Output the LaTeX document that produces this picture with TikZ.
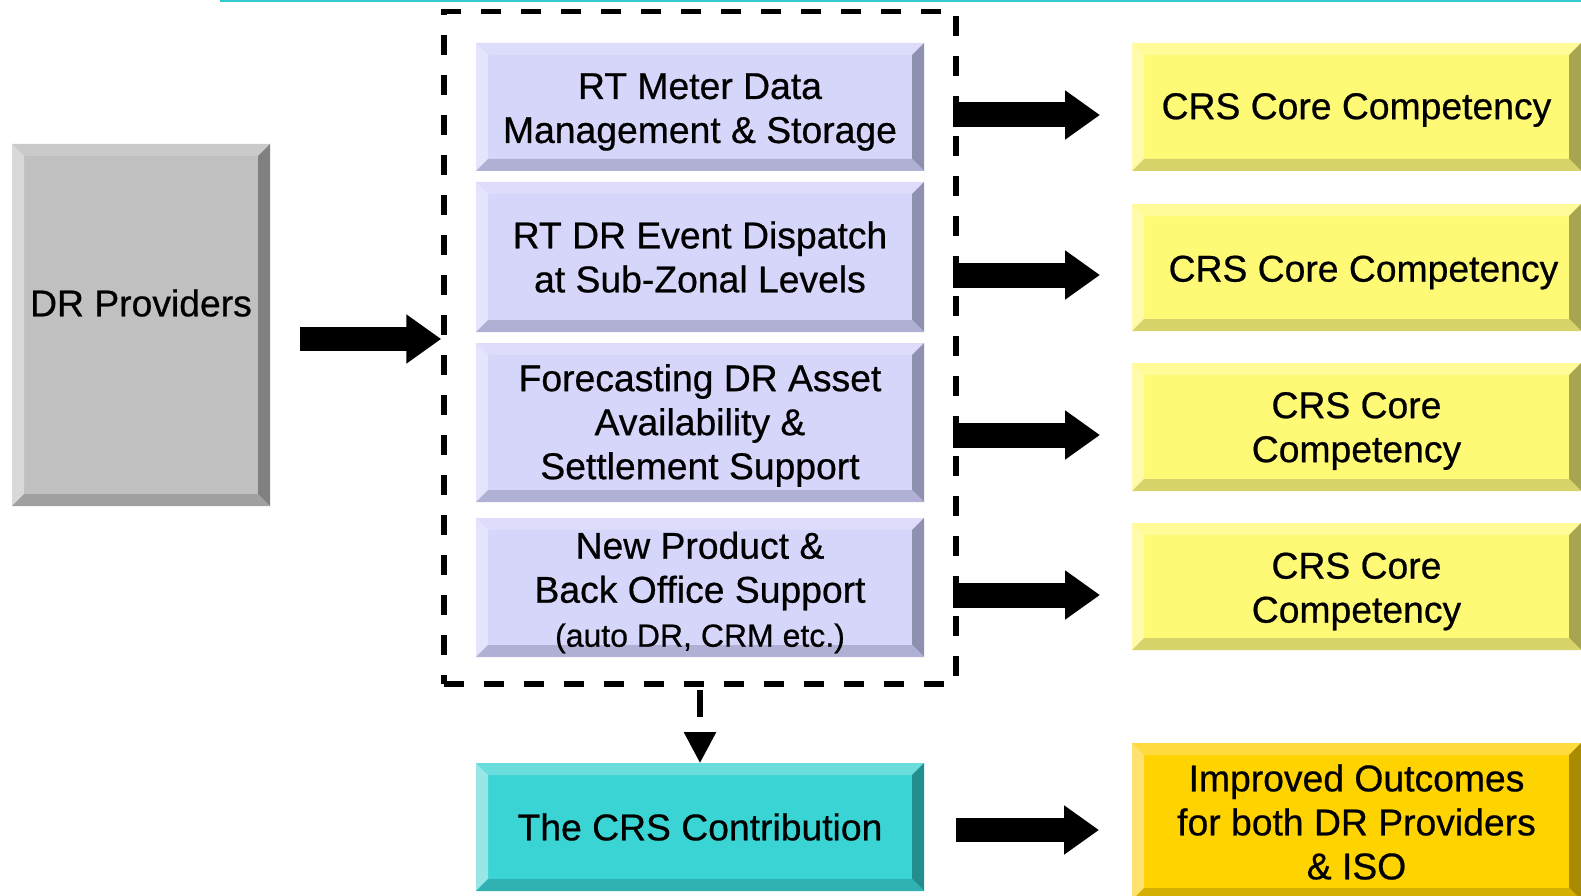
\documentclass[tikz,border=0pt]{standalone}
\usepackage{fontspec}
\setmainfont[FakeBold=0.6]{Liberation Sans}
\usetikzlibrary{arrows.meta,calc}
\definecolor{gFace}{HTML}{BFC0BF}\definecolor{gTop}{HTML}{CACACA}\definecolor{gLeft}{HTML}{D9D9D9}\definecolor{gRight}{HTML}{808080}\definecolor{gBot}{HTML}{A0A0A0}
\definecolor{pFace}{HTML}{D6D6FA}\definecolor{pTop}{HTML}{DDDDFB}\definecolor{pLeft}{HTML}{E4E4FD}\definecolor{pRight}{HTML}{8F8FB0}\definecolor{pBot}{HTML}{B0B0D4}
\definecolor{yFace}{HTML}{FFFA76}\definecolor{yTop}{HTML}{FFFB99}\definecolor{yLeft}{HTML}{FFFBAA}\definecolor{yRight}{HTML}{A8A550}\definecolor{yBot}{HTML}{D6D36A}
\definecolor{oFace}{HTML}{FFD300}\definecolor{oTop}{HTML}{FFDB40}\definecolor{oLeft}{HTML}{FFE170}\definecolor{oRight}{HTML}{A88B00}\definecolor{oBot}{HTML}{D4B000}
\definecolor{cFace}{HTML}{3AD4D4}\definecolor{cTop}{HTML}{6CDDDD}\definecolor{cLeft}{HTML}{98E6E6}\definecolor{cRight}{HTML}{228E8E}\definecolor{cBot}{HTML}{30B2B2}
\definecolor{lineCyan}{HTML}{33CCCC}
\newcommand\bigtxt{\fontsize{37.3}{44}\selectfont}
\newcommand\smalltxt{\fontsize{32}{42}\selectfont}
% name, top, left, right, bottom
\newcommand\bevelfill[5]{%
  \fill[#2] (#1.north west) -- (#1.north east) -- ($(#1.north east)+(-12pt,-12pt)$) -- ($(#1.north west)+(12pt,-12pt)$) -- cycle;
  \fill[#3] (#1.north west) -- (#1.south west) -- ($(#1.south west)+(12pt,12pt)$) -- ($(#1.north west)+(12pt,-12pt)$) -- cycle;
  \fill[#4] (#1.north east) -- (#1.south east) -- ($(#1.south east)+(-12pt,12pt)$) -- ($(#1.north east)+(-12pt,-12pt)$) -- cycle;
  \fill[#5] (#1.south west) -- (#1.south east) -- ($(#1.south east)+(-12pt,12pt)$) -- ($(#1.south west)+(12pt,12pt)$) -- cycle;
}
\tikzset{
  box/.style={inner sep=0pt, outer sep=0pt},
  purplebox/.style={box, fill=pFace, minimum width=448pt},
  yellowbox/.style={box, fill=yFace, minimum width=449pt},
  txt/.style={inner sep=0pt, align=center, font=\bigtxt, text=black},
  blockarrow/.style={line width=24pt, -{Triangle[length=35pt,width=47pt]}},
  dashedgroup/.style={draw=black, line width=5.5pt, dash pattern=on 20pt off 20pt},
}
\begin{document}
\begin{tikzpicture}[x=1pt,y=-1pt]
\useasboundingbox (0,0) rectangle (1581,896);
\clip (0,0) rectangle (1581,896);
\fill[white] (0,0) rectangle (1581,896);
% top line
\coordinate (tl0) at (220,1);
\coordinate (tl1) at (1581,1);
\draw[lineCyan, line width=2pt] (tl0) -- (tl1);
% DR providers
\node[box, fill=gFace, minimum width=258pt, minimum height=362pt] (dr) at (141,325) {};
\bevelfill{dr}{gTop}{gLeft}{gRight}{gBot}
\node[txt] (drt) at (141,303) {DR Providers};
% dashed group
\node[dashedgroup, inner sep=0pt, minimum width=512pt, minimum height=672.5pt] (grp) at (700,347.75) {};
% purple boxes
\node[purplebox, minimum height=128pt] (b1) at (700,107) {};
\node[purplebox, minimum height=150pt] (b2) at (700,257) {};
\node[purplebox, minimum height=159pt] (b3) at (700,422.5) {};
\node[purplebox, minimum height=139pt] (b4) at (700,587.5) {};
\bevelfill{b1}{pTop}{pLeft}{pRight}{pBot}
\bevelfill{b2}{pTop}{pLeft}{pRight}{pBot}
\bevelfill{b3}{pTop}{pLeft}{pRight}{pBot}
\bevelfill{b4}{pTop}{pLeft}{pRight}{pBot}
\node[txt] (b1t) at (700,112) {RT Meter Data\\Management \& Storage};
\node[txt] (b2t) at (700,257) {RT DR Event Dispatch\\at Sub-Zonal Levels};
\node[txt] (b3t) at (700,425.5) {Forecasting DR Asset\\Availability \&\\Settlement Support};
\node[txt] (b4t) at (700,592.5) {New Product \&\\Back Office Support\\{\smalltxt (auto DR, CRM etc.)}};
% cyan box
\node[box, fill=cFace, minimum width=448pt, minimum height=128pt] (crs) at (700,827) {};
\bevelfill{crs}{cTop}{cLeft}{cRight}{cBot}
\node[txt] (crst) at (700,827) {The CRS Contribution};
% yellow boxes
\node[yellowbox, minimum height=128pt] (y1) at (1356.5,107) {};
\node[yellowbox, minimum height=127pt] (y2) at (1356.5,267.5) {};
\node[yellowbox, minimum height=128pt] (y3) at (1356.5,427) {};
\node[yellowbox, minimum height=127pt] (y4) at (1356.5,586.5) {};
\bevelfill{y1}{yTop}{yLeft}{yRight}{yBot}
\bevelfill{y2}{yTop}{yLeft}{yRight}{yBot}
\bevelfill{y3}{yTop}{yLeft}{yRight}{yBot}
\bevelfill{y4}{yTop}{yLeft}{yRight}{yBot}
\node[txt] (y1t) at (1356.5,110) {CRS Core Competency};
\node[txt] (y2t) at (1363.5,272.5) {CRS Core Competency};
\node[txt] (y3t) at (1356.5,431) {CRS Core\\Competency};
\node[txt] (y4t) at (1356.5,591.5) {CRS Core\\Competency};
% gold box
\node[box, fill=oFace, minimum width=449pt, minimum height=157pt] (gold) at (1356.5,821.5) {};
\bevelfill{gold}{oTop}{oLeft}{oRight}{oBot}
\node[txt] (goldt) at (1356.5,822) {Improved Outcomes\\for both DR Providers\\\& ISO};
% arrows
\coordinate (l0) at (300,339);
\draw[blockarrow] (l0) -- (l0 -| grp.west);
\coordinate (r1) at (953,115);
\coordinate (r2) at (953,275);
\coordinate (r3) at (953,435);
\coordinate (r4) at (953,595);
\draw[blockarrow, line width=25pt, shorten >=32pt] (r1) -- (r1 -| y1.west);
\draw[blockarrow, line width=25pt, shorten >=32pt] (r2) -- (r2 -| y2.west);
\draw[blockarrow, line width=25pt, shorten >=32pt] (r3) -- (r3 -| y3.west);
\draw[blockarrow, line width=25pt, shorten >=32pt] (r4) -- (r4 -| y4.west);
\coordinate (r5) at (956,830);
\draw[blockarrow, shorten >=33pt] (r5) -- (r5 -| gold.west);
% dashed down arrow
\draw[line width=6pt, dash pattern=on 27pt off 40pt, -{Triangle[length=31pt,width=31pt]}] ($(grp.south)+(0,-2.75pt)$) -- (crs.north);
\end{tikzpicture}
\end{document}
